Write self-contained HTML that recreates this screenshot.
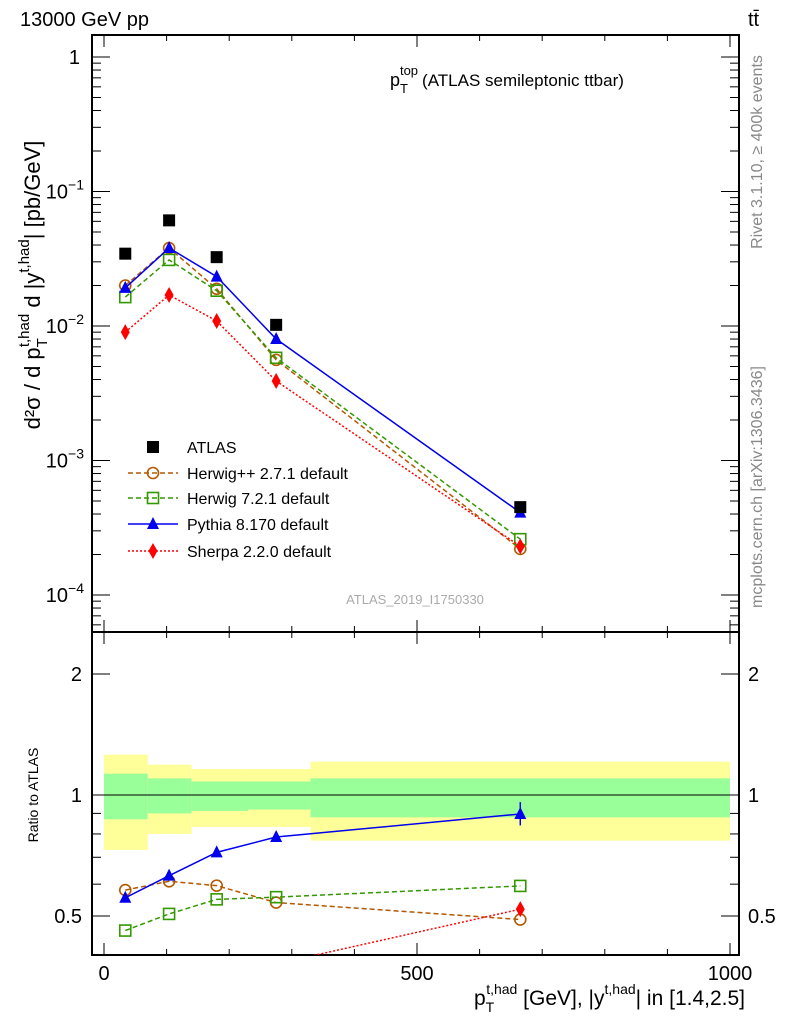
<!DOCTYPE html>
<html><head><meta charset="utf-8"><style>
body{margin:0;background:#fff;}
svg text{font-family:"Liberation Sans",sans-serif;}
</style></head><body>
<svg id="chart" width="786" height="1024" xmlns="http://www.w3.org/2000/svg">
<text x="20" y="26" font-size="20">13000 GeV pp</text>
<text x="748" y="26" font-size="20">tt̄</text>
<text x="390" y="86" font-size="18">p<tspan font-size="13" dy="7">T</tspan><tspan font-size="13" dx="-8" dy="-18">top</tspan><tspan dy="11" dx="4" font-size="17">(ATLAS semileptonic ttbar)</tspan></text>
<text x="415" y="604" font-size="13" fill="#aaa" text-anchor="middle">ATLAS_2019_I1750330</text>
<text transform="translate(762,152) rotate(-90)" font-size="16" fill="#888" text-anchor="middle">Rivet 3.1.10, ≥ 400k events</text>
<text transform="translate(762,487) rotate(-90)" font-size="16" fill="#888" text-anchor="middle">mcplots.cern.ch [arXiv:1306.3436]</text>
<text transform="translate(40,285) rotate(-90)" font-size="22" text-anchor="middle">d²σ / d p<tspan font-size="15" dy="7">T</tspan><tspan font-size="15" dy="-18" dx="-9">t,had</tspan><tspan dy="11"> d |y</tspan><tspan font-size="15" dy="-11">t,had</tspan><tspan dy="11">| [pb/GeV]</tspan></text>
<text transform="translate(38,795) rotate(-90)" font-size="14" text-anchor="middle">Ratio to ATLAS</text>
<text x="745" y="1005" font-size="21" text-anchor="end">p<tspan font-size="14" dy="7">T</tspan><tspan font-size="14" dy="-18" dx="-8">t,had</tspan><tspan dy="11"> [GeV], |y</tspan><tspan font-size="14" dy="-11">t,had</tspan><tspan dy="11">| in [1.4,2.5]</tspan></text>
<g id="g"></g>
</svg>
<script>
const categories=[34,104,180,275,665];
const binEdges=[0,70,140,230,330,1000];
const atlas=[0.0345,0.061,0.0325,0.0102,0.00045];
const herwigpp=[0.020,0.038,0.0189,0.0056,0.00022];
const herwig7=[0.0164,0.031,0.0183,0.0058,0.00026];
const pythia=[0.0192,0.038,0.0233,0.0080,0.00041];
const sherpa=[0.0090,0.0170,0.0109,0.0039,0.00023];
const rHerwigpp=[0.58,0.61,0.595,0.54,0.49];
const rHerwig7=[0.46,0.506,0.55,0.557,0.594];
const rPythia=[0.555,0.63,0.72,0.786,0.897];
const rSherpa=[0.26,0.28,0.33,0.38,0.52];
const yellowHi=[1.26,1.19,1.16,1.16,1.21];
const greenHi=[1.13,1.10,1.08,1.08,1.10];
const greenLo=[0.87,0.90,0.913,0.92,0.88];
const yellowLo=[0.73,0.80,0.833,0.833,0.77];
const xTicks=[0,500,1000];
const NS="http://www.w3.org/2000/svg";
const g=document.getElementById('g');
const L=92,R=739,T=35,M=632,B=955;
const X=v=>104+v*0.626;
const Y=v=>57-134.5*Math.log10(v);
const RY=v=>795-121*Math.log2(v);
function el(t,a,p){const e=document.createElementNS(NS,t);for(const k in a)e.setAttribute(k,a[k]);(p||g).appendChild(e);return e;}
const defs=el('defs',{});
const cp=el('clipPath',{id:'cr'},defs);el('rect',{x:L,y:M,width:R-L,height:B-M},cp);
const cm=el('clipPath',{id:'cm'},defs);el('rect',{x:L,y:T,width:R-L,height:M-T},cm);
for(let i=0;i<5;i++){
 const x0=X(binEdges[i]),x1=X(binEdges[i+1]);
 const y=el('rect',{x:x0,y:RY(yellowHi[i]),width:x1-x0,height:RY(yellowLo[i])-RY(yellowHi[i]),fill:'#ffff99'});
 
 
 const gr=el('rect',{x:x0,y:RY(greenHi[i]),width:x1-x0,height:RY(greenLo[i])-RY(greenHi[i]),fill:'#99ff99'});
 
 
}
el('line',{x1:L,x2:R,y1:RY(1),y2:RY(1),stroke:'#000','stroke-width':1});
el('rect',{x:L,y:T,width:R-L,height:M-T,fill:'none',stroke:'#000','stroke-width':2});
el('rect',{x:L,y:M,width:R-L,height:B-M,fill:'none',stroke:'#000','stroke-width':2});
for(let v=0;v<=1000;v+=100){
 const big=v%500===0,len=big?12:6;
 [[T,1],[M,-1],[M,1],[B,-1]].forEach(([yy,d])=>el('line',{x1:X(v),x2:X(v),y1:yy,y2:yy+d*len,stroke:'#000'}));
}
xTicks.forEach(v=>{const t=el('text',{x:X(v),y:980,'font-size':20,'text-anchor':'middle'});t.textContent=v;
 
 });
for(let e=-5;e<=0;e++){for(let m=1;m<10;m++){const v=m*Math.pow(10,e);const y=Y(v);if(y<T||y>M)continue;
 const len=m===1?18:9;el('line',{x1:L,x2:L+len,y1:y,y2:y,stroke:'#000'});el('line',{x1:R,x2:R-len,y1:y,y2:y,stroke:'#000'});}
 const y=Y(Math.pow(10,e));if(y<T||y>M)continue;
 const t=el('text',{x:e===0?80:84,y:y+7,'font-size':20,'text-anchor':'end'});
 if(e===0)t.textContent='1';else{t.textContent='10';const s=el('tspan',{dy:-9,'font-size':14},t);s.textContent=String(e).replace('-','−');}
 
 }
[0.4,0.5,0.6,0.7,0.8,0.9,1,2].forEach(v=>{const y=RY(v);const len=(v===0.5||v===1||v===2)?18:9;
 el('line',{x1:L,x2:L+len,y1:y,y2:y,stroke:'#000'});el('line',{x1:R,x2:R-len,y1:y,y2:y,stroke:'#000'});});
[[2,'2'],[1,'1'],[0.5,'0.5']].forEach(([v,s])=>{[[82,'end'],[748,'start']].forEach(([x,a])=>{const t=el('text',{x:x,y:RY(v)+7,'font-size':20,'text-anchor':a});t.textContent=s;
 
 });});
function marker(type,x,y,c,p){
 let e;
 if(type==='sq')e=el('rect',{x:x-6,y:y-6,width:12,height:12,fill:'#000'},p);
 if(type==='osq')e=el('rect',{x:x-5.5,y:y-5.5,width:11,height:11,fill:'none',stroke:c,'stroke-width':1.6},p);
 if(type==='oc')e=el('circle',{cx:x,cy:y,r:5.5,fill:'none',stroke:c,'stroke-width':1.6},p);
 if(type==='tri')e=el('polygon',{points:`${x},${y-7} ${x-6},${y+5} ${x+6},${y+5}`,fill:c},p);
 if(type==='dia')e=el('polygon',{points:`${x},${y-8} ${x-4.5},${y} ${x},${y+8} ${x+4.5},${y}`,fill:c},p);
 return e;
}
const series=[
 {n:'herwigpp',d:herwigpp,r:rHerwigpp,c:'#b35900',m:'oc',dash:'5,3',label:'Herwig++ 2.7.1 default'},
 {n:'herwig7',d:herwig7,r:rHerwig7,c:'#339900',m:'osq',dash:'5,3',label:'Herwig 7.2.1 default'},
 {n:'pythia',d:pythia,r:rPythia,c:'#0000ee',m:'tri',dash:'',label:'Pythia 8.170 default'},
 {n:'sherpa',d:sherpa,r:rSherpa,c:'#ff0000',m:'dia',dash:'2,2',label:'Sherpa 2.2.0 default'}];
const gm=el('g',{'clip-path':'url(#cm)'});
const gr2=el('g',{'clip-path':'url(#cr)'});
series.forEach(s=>{
 const pm=el('polyline',{points:categories.map((x,i)=>X(x)+','+Y(s.d[i])).join(' '),fill:'none',stroke:s.c,'stroke-width':1.5,'stroke-dasharray':s.dash},gm);
 
 
 const pr=el('polyline',{points:categories.map((x,i)=>X(x)+','+RY(s.r[i])).join(' '),fill:'none',stroke:s.c,'stroke-width':1.5,'stroke-dasharray':s.dash},gr2);
 
 
 categories.forEach((x,i)=>{const a=marker(s.m,X(x),Y(s.d[i]),s.c,gm);
  
  
  const b=marker(s.m,X(x),RY(s.r[i]),s.c,gr2);
  
  });
});
el('line',{x1:X(665),x2:X(665),y1:RY(0.96),y2:RY(0.84),stroke:'#0000ee','stroke-width':1.5},gr2);
categories.forEach((x,i)=>{const a=marker('sq',X(x),Y(atlas[i]),'#000',gm);
 
 });
const ly=[447,473,498,524,551];
const lg=el('g',{});


marker('sq',153,ly[0],'#000',lg);
let t=el('text',{x:187,y:ly[0]+6,'font-size':16},lg);t.textContent='ATLAS';
series.forEach((s,i)=>{const y=ly[i+1];
 el('line',{x1:128,x2:178,y1:y,y2:y,stroke:s.c,'stroke-width':1.5,'stroke-dasharray':s.dash},lg);
 marker(s.m,153,y,s.c,lg);
 const tt=el('text',{x:187,y:y+6,'font-size':16},lg);tt.textContent=s.label;
 
 });
</script>
</body></html>
